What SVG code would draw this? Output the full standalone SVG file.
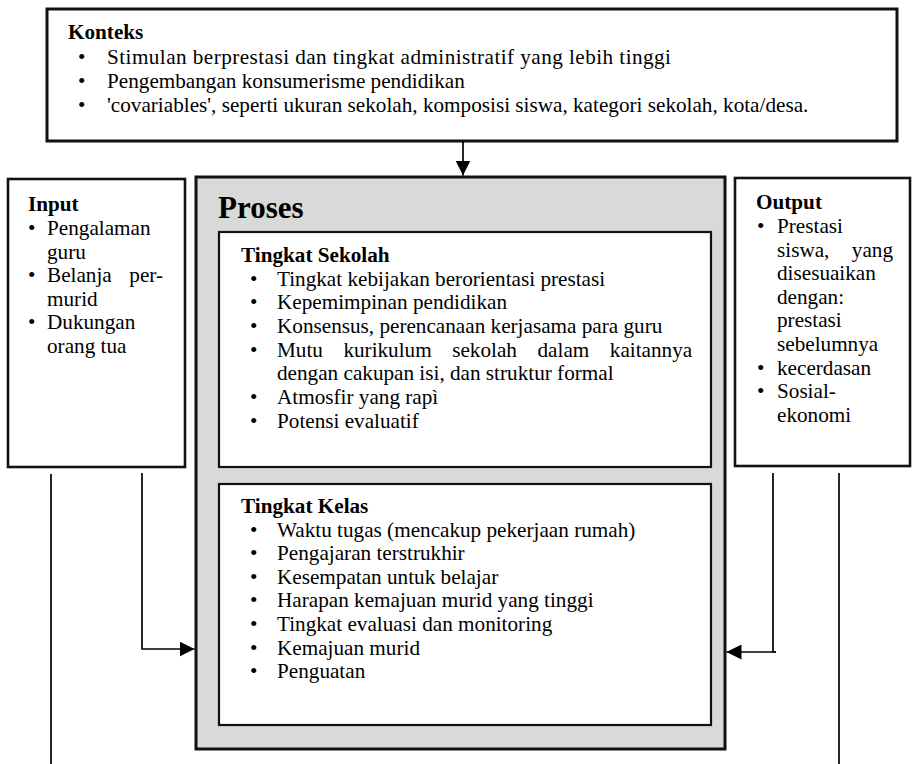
<svg xmlns="http://www.w3.org/2000/svg" width="912" height="764" viewBox="0 0 912 764">
<defs>
<style>
text{font-family:"Liberation Serif","Times New Roman",serif;font-size:21.2px;fill:#000}
.b{font-weight:bold}
.box{fill:#fff;stroke:#111;stroke-width:2.6}
.proc{fill:#d9d9d9;stroke:#111;stroke-width:3}
.inner{fill:#fff;stroke:#111;stroke-width:2.2}
.con{fill:none;stroke:#000;stroke-width:1.7}
</style>
<marker id="ah" markerUnits="userSpaceOnUse" markerWidth="15" markerHeight="15" refX="15" refY="7.5" orient="auto">
<path d="M0,0 L15,7.5 L0,15 z" fill="#000"/>
</marker>
</defs>
<rect width="912" height="764" fill="#fff"/>

<g id="konteks">
<rect class="box" x="47" y="9" width="850" height="132" style="stroke-width:3"/>
<text class="b" x="68" y="39">Konteks</text>
<text x="78" y="64">•</text><text x="107" y="64" textLength="564" lengthAdjust="spacing">Stimulan berprestasi dan tingkat administratif yang lebih tinggi</text>
<text x="78" y="88">•</text><text x="107" y="88">Pengembangan konsumerisme pendidikan</text>
<text x="78" y="112">•</text><text x="107" y="112">'covariables', seperti ukuran sekolah, komposisi siswa, kategori sekolah, kota/desa.</text>
</g>

<g id="input">
<rect class="box" x="8" y="179" width="177" height="288"/>
<text class="b" x="28" y="211">Input</text>
<text x="28" y="235">•</text><text x="47" y="235">Pengalaman</text>
<text x="47" y="259">guru</text>
<text x="28" y="282">•</text><text x="47" y="282">Belanja</text><text x="163" y="282" text-anchor="end">per-</text>
<text x="47" y="306">murid</text>
<text x="28" y="329">•</text><text x="47" y="329">Dukungan</text>
<text x="47" y="353">orang tua</text>
</g>

<g id="proses">
<rect class="proc" x="196" y="177" width="529" height="572"/>
<text class="b" x="218" y="218" style="font-size:31px">Proses</text>
</g>

<g id="tingkat-sekolah">
<rect class="inner" x="219" y="232" width="492" height="235"/>
<text class="b" x="241" y="262">Tingkat Sekolah</text>
<text x="250" y="285.5">•</text><text x="277" y="285.5">Tingkat kebijakan berorientasi prestasi</text>
<text x="250" y="309">•</text><text x="277" y="309">Kepemimpinan pendidikan</text>
<text x="250" y="333">•</text><text x="277" y="333">Konsensus, perencanaan kerjasama para guru</text>
<text x="250" y="356.5">•</text><text y="356.5"><tspan x="277">Mutu</tspan><tspan x="343.4">kurikulum</tspan><tspan x="452.2">sekolah</tspan><tspan x="537.5">dalam</tspan><tspan x="609.8">kaitannya</tspan></text>
<text x="277" y="380">dengan cakupan isi, dan struktur formal</text>
<text x="250" y="404">•</text><text x="277" y="404">Atmosfir yang rapì</text>
<text x="250" y="427.5">•</text><text x="277" y="427.5">Potensi evaluatif</text>
</g>

<g id="tingkat-kelas">
<rect class="inner" x="219" y="484" width="492" height="241"/>
<text class="b" x="241" y="513">Tingkat Kelas</text>
<text x="250" y="536.6">•</text><text x="277" y="536.6">Waktu tugas (mencakup pekerjaan rumah)</text>
<text x="250" y="560.2">•</text><text x="277" y="560.2">Pengajaran terstrukhir</text>
<text x="250" y="583.8">•</text><text x="277" y="583.8">Kesempatan untuk belajar</text>
<text x="250" y="607.4">•</text><text x="277" y="607.4">Harapan kemajuan murid yang tinggi</text>
<text x="250" y="631">•</text><text x="277" y="631">Tingkat evaluasi dan monitoring</text>
<text x="250" y="654.6">•</text><text x="277" y="654.6">Kemajuan murid</text>
<text x="250" y="678.2">•</text><text x="277" y="678.2">Penguatan</text>
</g>

<g id="output">
<rect class="box" x="735" y="178" width="175" height="288"/>
<text class="b" x="756" y="209">Output</text>
<text x="757" y="233">•</text><text x="777" y="233">Prestasi</text>
<text x="777" y="257">siswa,</text><text x="893" y="257" text-anchor="end">yang</text>
<text x="777" y="280">disesuaikan</text>
<text x="777" y="304">dengan:</text>
<text x="777" y="327">prestasi</text>
<text x="777" y="351">sebelumnya</text>
<text x="757" y="375">•</text><text x="777" y="375">kecerdasan</text>
<text x="757" y="398">•</text><text x="777" y="398">Sosial-</text>
<text x="777" y="422">ekonomi</text>
</g>

<g id="connectors">
<line class="con" x1="463" y1="141" x2="463" y2="175.5" marker-end="url(#ah)"/>
<polyline class="con" points="142,473 142,649 194.5,649" marker-end="url(#ah)"/>
<line class="con" x1="51" y1="474" x2="51" y2="764"/>
<polyline class="con" points="773,473 773,652 776,652"/>
<line class="con" x1="776" y1="652" x2="726.5" y2="652" marker-end="url(#ah)"/>
<line class="con" x1="839" y1="473" x2="839" y2="764"/>
</g>
</svg>
